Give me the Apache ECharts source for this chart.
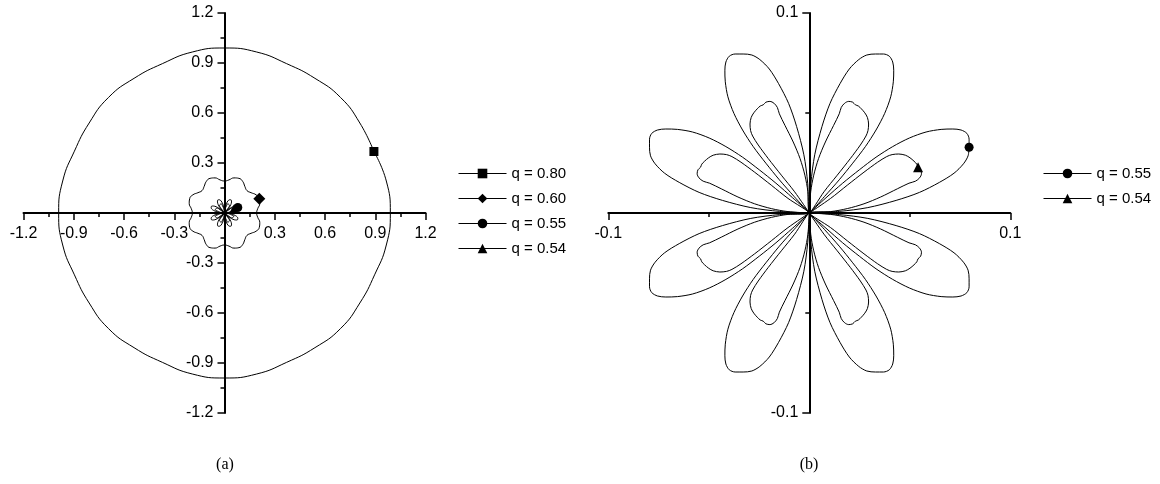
<!DOCTYPE html>
<html>
<head>
<meta charset="utf-8">
<script src="https://cdn.jsdelivr.net/npm/echarts@6.0.0/dist/echarts.min.js"></script>
<style>
  html, body { margin: 0; padding: 0; background: #fff; }
  #chart { width: 1160px; height: 484px; }
</style>
</head>
<body>
<div id="chart"></div>
<script>
// series names, as in the legends
const namesA = ['q = 0.80', 'q = 0.60', 'q = 0.55', 'q = 0.54']
const namesB = ['q = 0.55', 'q = 0.54']

// axis ranges and tick steps
const rangeA = [-1.2, 1.2]
const stepA = 0.3
const rangeB = [-0.1, 0.1]
const stepB = 0.1

// q = 0.80, outer closed curve (starts at the square marker)
const q80Points = [
  [0.892, 0.369], [0.808, 0.540], [0.693, 0.693], [0.540, 0.808], [0.371, 0.896], [0.192, 0.966], [0, 0.990],
  [-0.192, 0.966], [-0.371, 0.896], [-0.540, 0.808], [-0.693, 0.693], [-0.808, 0.540], [-0.896, 0.371], [-0.966, 0.192], [-0.990, 0],
  [-0.966, -0.192], [-0.896, -0.371], [-0.808, -0.540], [-0.693, -0.693], [-0.540, -0.808], [-0.371, -0.896], [-0.192, -0.966], [0, -0.990],
  [0.192, -0.966], [0.371, -0.896], [0.540, -0.808], [0.693, -0.693], [0.808, -0.540], [0.896, -0.371], [0.966, -0.192], [0.990, 0],
  [0.966, 0.192], [0.892, 0.369]
]

// q = 0.60, wavy ring (starts at the diamond marker)
const q60Points = [
  [0.2079, 0.0861], [0.1888, 0.109], [0.1587, 0.1218], [0.1343, 0.1343], [0.1218, 0.1587], [0.109, 0.1888], [0.0861, 0.2079], [0.0564, 0.2106], [0.0261, 0.1983], [0, 0.192],
  [-0.0261, 0.1983], [-0.0564, 0.2106], [-0.0861, 0.2079], [-0.109, 0.1888], [-0.1218, 0.1587], [-0.1343, 0.1343], [-0.1587, 0.1218], [-0.1888, 0.109], [-0.2079, 0.0861], [-0.2106, 0.0564], [-0.1983, 0.0261], [-0.192, 0],
  [-0.1983, -0.0261], [-0.2106, -0.0564], [-0.2079, -0.0861], [-0.1888, -0.109], [-0.1587, -0.1218], [-0.1343, -0.1343], [-0.1218, -0.1587], [-0.109, -0.1888], [-0.0861, -0.2079], [-0.0564, -0.2106], [-0.0261, -0.1983], [0, -0.192],
  [0.0261, -0.1983], [0.0564, -0.2106], [0.0861, -0.2079], [0.109, -0.1888], [0.1218, -0.1587], [0.1343, -0.1343], [0.1587, -0.1218], [0.1888, -0.109], [0.2079, -0.0861], [0.2106, -0.0564], [0.1983, -0.0261], [0.192, 0],
  [0.1983, 0.0261], [0.2106, 0.0564], [0.2079, 0.0861]
]

// q = 0.55, eight outer petals (starts at the circle marker)
const q55Points = [
  [0.0795, 0.0329], [0.0795, 0.0369], [0.0784, 0.0398], [0.0755, 0.0415], [0.0714, 0.0420], [0.0656, 0.0418], [0.0581, 0.0405], [0.0498, 0.0375], [0.0415, 0.0332], [0.0332, 0.0279], [0.0249, 0.0216], [0.0166, 0.0149], [0.0083, 0.0076], [0, 0],
  [0.0008, 0.0149], [0.0027, 0.0291], [0.0063, 0.0432], [0.0103, 0.0548], [0.0153, 0.0647], [0.0199, 0.0720], [0.0246, 0.0767], [0.0286, 0.0790], [0.0329, 0.0795], [0.0369, 0.0795], [0.0398, 0.0784], [0.0415, 0.0755], [0.0420, 0.0714], [0.0418, 0.0656], [0.0405, 0.0581], [0.0375, 0.0498], [0.0332, 0.0415], [0.0279, 0.0332], [0.0216, 0.0249], [0.0149, 0.0166], [0.0076, 0.0083], [0, 0],
  [-0.0008, 0.0149], [-0.0027, 0.0291], [-0.0063, 0.0432], [-0.0103, 0.0548], [-0.0153, 0.0647], [-0.0199, 0.0720], [-0.0246, 0.0767], [-0.0286, 0.0790], [-0.0329, 0.0795], [-0.0369, 0.0795], [-0.0398, 0.0784], [-0.0415, 0.0755], [-0.0420, 0.0714], [-0.0418, 0.0656], [-0.0405, 0.0581], [-0.0375, 0.0498], [-0.0332, 0.0415], [-0.0279, 0.0332], [-0.0216, 0.0249], [-0.0149, 0.0166], [-0.0076, 0.0083], [0, 0],
  [-0.0149, 0.0008], [-0.0291, 0.0027], [-0.0432, 0.0063], [-0.0548, 0.0103], [-0.0647, 0.0153], [-0.0720, 0.0199], [-0.0767, 0.0246], [-0.0790, 0.0286], [-0.0795, 0.0329], [-0.0795, 0.0369], [-0.0784, 0.0398], [-0.0755, 0.0415], [-0.0714, 0.0420], [-0.0656, 0.0418], [-0.0581, 0.0405], [-0.0498, 0.0375], [-0.0415, 0.0332], [-0.0332, 0.0279], [-0.0249, 0.0216], [-0.0166, 0.0149], [-0.0083, 0.0076], [0, 0],
  [-0.0149, -0.0008], [-0.0291, -0.0027], [-0.0432, -0.0063], [-0.0548, -0.0103], [-0.0647, -0.0153], [-0.0720, -0.0199], [-0.0767, -0.0246], [-0.0790, -0.0286], [-0.0795, -0.0329], [-0.0795, -0.0369], [-0.0784, -0.0398], [-0.0755, -0.0415], [-0.0714, -0.0420], [-0.0656, -0.0418], [-0.0581, -0.0405], [-0.0498, -0.0375], [-0.0415, -0.0332], [-0.0332, -0.0279], [-0.0249, -0.0216], [-0.0166, -0.0149], [-0.0083, -0.0076], [0, 0],
  [-0.0008, -0.0149], [-0.0027, -0.0291], [-0.0063, -0.0432], [-0.0103, -0.0548], [-0.0153, -0.0647], [-0.0199, -0.0720], [-0.0246, -0.0767], [-0.0286, -0.0790], [-0.0329, -0.0795], [-0.0369, -0.0795], [-0.0398, -0.0784], [-0.0415, -0.0755], [-0.0420, -0.0714], [-0.0418, -0.0656], [-0.0405, -0.0581], [-0.0375, -0.0498], [-0.0332, -0.0415], [-0.0279, -0.0332], [-0.0216, -0.0249], [-0.0149, -0.0166], [-0.0076, -0.0083], [0, 0],
  [0.0008, -0.0149], [0.0027, -0.0291], [0.0063, -0.0432], [0.0103, -0.0548], [0.0153, -0.0647], [0.0199, -0.0720], [0.0246, -0.0767], [0.0286, -0.0790], [0.0329, -0.0795], [0.0369, -0.0795], [0.0398, -0.0784], [0.0415, -0.0755], [0.0420, -0.0714], [0.0418, -0.0656], [0.0405, -0.0581], [0.0375, -0.0498], [0.0332, -0.0415], [0.0279, -0.0332], [0.0216, -0.0249], [0.0149, -0.0166], [0.0076, -0.0083], [0, 0],
  [0.0149, -0.0008], [0.0291, -0.0027], [0.0432, -0.0063], [0.0548, -0.0103], [0.0647, -0.0153], [0.0720, -0.0199], [0.0767, -0.0246], [0.0790, -0.0286], [0.0795, -0.0329], [0.0795, -0.0369], [0.0784, -0.0398], [0.0755, -0.0415], [0.0714, -0.0420], [0.0656, -0.0418], [0.0581, -0.0405], [0.0498, -0.0375], [0.0415, -0.0332], [0.0332, -0.0279], [0.0249, -0.0216], [0.0166, -0.0149], [0.0083, -0.0076], [0, 0],
  [0.0149, 0.0008], [0.0291, 0.0027], [0.0432, 0.0063], [0.0548, 0.0103], [0.0647, 0.0153], [0.0720, 0.0199], [0.0767, 0.0246], [0.0790, 0.0286], [0.0795, 0.0329]
]

// q = 0.54, eight inner petals with wavy tips (starts at the triangle marker)
const q54Points = [
  [0.0541, 0.0229], [0.0535, 0.0244], [0.0521, 0.0259], [0.0501, 0.0276], [0.0478, 0.0289], [0.0445, 0.0295], [0.0412, 0.0292], [0.0385, 0.0282], [0.0340, 0.0254], [0.0272, 0.0204], [0.0189, 0.0139], [0.0106, 0.0073], [0, 0],
  [0.0007, 0.0106], [0.0022, 0.0189], [0.0046, 0.0272], [0.0080, 0.0355], [0.0121, 0.0438], [0.0149, 0.0496], [0.0159, 0.0528], [0.0176, 0.0549], [0.0196, 0.0558], [0.0216, 0.0554], [0.0229, 0.0541], [0.0244, 0.0535], [0.0259, 0.0521], [0.0276, 0.0501], [0.0289, 0.0478], [0.0295, 0.0445], [0.0292, 0.0412], [0.0282, 0.0385], [0.0254, 0.0340], [0.0204, 0.0272], [0.0139, 0.0189], [0.0073, 0.0106], [0, 0],
  [-0.0007, 0.0106], [-0.0022, 0.0189], [-0.0046, 0.0272], [-0.0080, 0.0355], [-0.0121, 0.0438], [-0.0149, 0.0496], [-0.0159, 0.0528], [-0.0176, 0.0549], [-0.0196, 0.0558], [-0.0216, 0.0554], [-0.0229, 0.0541], [-0.0244, 0.0535], [-0.0259, 0.0521], [-0.0276, 0.0501], [-0.0289, 0.0478], [-0.0295, 0.0445], [-0.0292, 0.0412], [-0.0282, 0.0385], [-0.0254, 0.0340], [-0.0204, 0.0272], [-0.0139, 0.0189], [-0.0073, 0.0106], [0, 0],
  [-0.0106, 0.0007], [-0.0189, 0.0022], [-0.0272, 0.0046], [-0.0355, 0.0080], [-0.0438, 0.0121], [-0.0496, 0.0149], [-0.0528, 0.0159], [-0.0549, 0.0176], [-0.0558, 0.0196], [-0.0554, 0.0216], [-0.0541, 0.0229], [-0.0535, 0.0244], [-0.0521, 0.0259], [-0.0501, 0.0276], [-0.0478, 0.0289], [-0.0445, 0.0295], [-0.0412, 0.0292], [-0.0385, 0.0282], [-0.0340, 0.0254], [-0.0272, 0.0204], [-0.0189, 0.0139], [-0.0106, 0.0073], [0, 0],
  [-0.0106, -0.0007], [-0.0189, -0.0022], [-0.0272, -0.0046], [-0.0355, -0.0080], [-0.0438, -0.0121], [-0.0496, -0.0149], [-0.0528, -0.0159], [-0.0549, -0.0176], [-0.0558, -0.0196], [-0.0554, -0.0216], [-0.0541, -0.0229], [-0.0535, -0.0244], [-0.0521, -0.0259], [-0.0501, -0.0276], [-0.0478, -0.0289], [-0.0445, -0.0295], [-0.0412, -0.0292], [-0.0385, -0.0282], [-0.0340, -0.0254], [-0.0272, -0.0204], [-0.0189, -0.0139], [-0.0106, -0.0073], [0, 0],
  [-0.0007, -0.0106], [-0.0022, -0.0189], [-0.0046, -0.0272], [-0.0080, -0.0355], [-0.0121, -0.0438], [-0.0149, -0.0496], [-0.0159, -0.0528], [-0.0176, -0.0549], [-0.0196, -0.0558], [-0.0216, -0.0554], [-0.0229, -0.0541], [-0.0244, -0.0535], [-0.0259, -0.0521], [-0.0276, -0.0501], [-0.0289, -0.0478], [-0.0295, -0.0445], [-0.0292, -0.0412], [-0.0282, -0.0385], [-0.0254, -0.0340], [-0.0204, -0.0272], [-0.0139, -0.0189], [-0.0073, -0.0106], [0, 0],
  [0.0007, -0.0106], [0.0022, -0.0189], [0.0046, -0.0272], [0.0080, -0.0355], [0.0121, -0.0438], [0.0149, -0.0496], [0.0159, -0.0528], [0.0176, -0.0549], [0.0196, -0.0558], [0.0216, -0.0554], [0.0229, -0.0541], [0.0244, -0.0535], [0.0259, -0.0521], [0.0276, -0.0501], [0.0289, -0.0478], [0.0295, -0.0445], [0.0292, -0.0412], [0.0282, -0.0385], [0.0254, -0.0340], [0.0204, -0.0272], [0.0139, -0.0189], [0.0073, -0.0106], [0, 0],
  [0.0106, -0.0007], [0.0189, -0.0022], [0.0272, -0.0046], [0.0355, -0.0080], [0.0438, -0.0121], [0.0496, -0.0149], [0.0528, -0.0159], [0.0549, -0.0176], [0.0558, -0.0196], [0.0554, -0.0216], [0.0541, -0.0229], [0.0535, -0.0244], [0.0521, -0.0259], [0.0501, -0.0276], [0.0478, -0.0289], [0.0445, -0.0295], [0.0412, -0.0292], [0.0385, -0.0282], [0.0340, -0.0254], [0.0272, -0.0204], [0.0189, -0.0139], [0.0106, -0.0073], [0, 0],
  [0.0106, 0.0007], [0.0189, 0.0022], [0.0272, 0.0046], [0.0355, 0.0080], [0.0438, 0.0121], [0.0496, 0.0149], [0.0528, 0.0159], [0.0549, 0.0176], [0.0558, 0.0196], [0.0554, 0.0216], [0.0541, 0.0229]
]

const font = 'Liberation Sans, Arial, sans-serif'
const gridW = 402
const gridH = 400

function tickLabel(v) {
  // the origin is left unlabelled
  return Math.abs(v) < 1e-9 ? '' : v.toFixed(1)
}

// axes are pulled into the middle of the grid so they cross at the origin
function makeAxis(grid, range, step, isX) {
  return {
    type: 'value',
    gridIndex: grid,
    position: isX ? 'bottom' : 'left',
    offset: isX ? -gridH / 2 : -gridW / 2,
    min: range[0],
    max: range[1],
    interval: step,
    axisLine: { onZero: false, lineStyle: { color: '#000', width: 2 } },
    axisTick: { show: true, inside: false, length: 7, lineStyle: { color: '#000', width: 1.5 } },
    minorTick: { show: true, splitNumber: 2, length: 4, lineStyle: { color: '#000', width: 1.5 } },
    splitLine: { show: false },
    minorSplitLine: { show: false },
    axisLabel: {
      color: '#000',
      fontSize: 16,
      fontFamily: font,
      margin: isX ? 13 : 11,
      formatter: tickLabel,
    },
  }
}

// only the first point of each curve carries the marker
function markerAt(size) {
  return function (val, params) {
    return params.dataIndex === 0 ? size : 0
  }
}

function curve(name, data, grid, symbol, size, smooth) {
  return {
    name: name,
    type: 'line',
    xAxisIndex: grid,
    yAxisIndex: grid,
    data: data,
    smooth: smooth,
    symbol: symbol,
    symbolSize: markerAt(size),
    showSymbol: true,
    itemStyle: { color: '#000', borderWidth: 0 },
    lineStyle: { color: '#000', width: 1 },
    emphasis: { disabled: true },
    z: 3,
  }
}

const chart = echarts.init(document.getElementById('chart'), null, { renderer: 'canvas' })

const legendBase = {
  orient: 'vertical',
  padding: 0,
  itemWidth: 48,
  itemHeight: 12,
  itemGap: 10,
  selectedMode: false,
  lineStyle: { color: '#000', width: 1 },
  itemStyle: { color: '#000', borderWidth: 0 },
  textStyle: { color: '#000', fontSize: 15, fontFamily: font },
}

const titleFont = '16px "Liberation Serif", "DejaVu Serif", serif'

const option = {
  backgroundColor: '#fff',
  animation: false,
  grid: [
    { left: 23.5, top: 13, width: gridW, height: gridH, containLabel: false, outerBoundsMode: 'none' },
    { left: 608.3, top: 13, width: gridW, height: gridH, containLabel: false, outerBoundsMode: 'none' },
  ],
  xAxis: [makeAxis(0, rangeA, stepA, true), makeAxis(1, rangeB, stepB, true)],
  yAxis: [makeAxis(0, rangeA, stepA, false), makeAxis(1, rangeB, stepB, false)],
  legend: [
    Object.assign({}, legendBase, { data: namesA, left: 458, top: 166 }),
    Object.assign({}, legendBase, { data: namesB, left: 1043, top: 166 }),
  ],
  graphic: [
    {
      type: 'text', x: 225, y: 465,
      style: { text: '(a)', font: titleFont, fill: '#000', align: 'center', verticalAlign: 'middle', textAlign: 'center', textVerticalAlign: 'middle' },
    },
    {
      type: 'text', x: 809, y: 465,
      style: { text: '(b)', font: titleFont, fill: '#000', align: 'center', verticalAlign: 'middle', textAlign: 'center', textVerticalAlign: 'middle' },
    },
  ],
  series: [
    curve(namesA[0], q80Points, 0, 'rect', 9, 0.5),
    curve(namesA[1], q60Points, 0, 'diamond', 12, 0.5),
    curve(namesA[2], q55Points, 0, 'circle', 9, 0.3),
    curve(namesA[3], q54Points, 0, 'triangle', 9, 0.3),
    curve(namesB[0], q55Points, 1, 'circle', 9, 0.3),
    curve(namesB[1], q54Points, 1, 'triangle', 10, 0.3),
  ],
}

chart.setOption(option)
</script>
</body>
</html>
